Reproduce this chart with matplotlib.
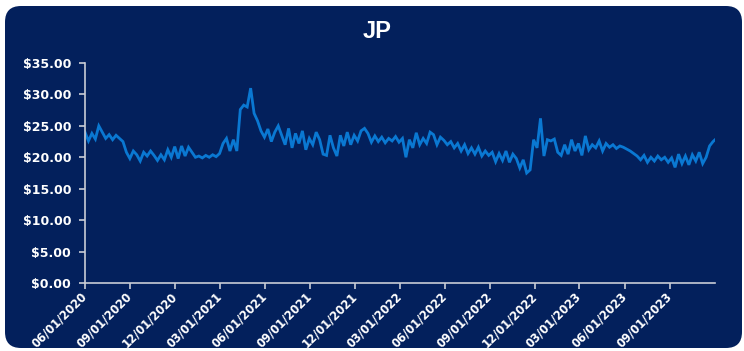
import matplotlib
matplotlib.use("Agg")
import matplotlib.pyplot as plt
import matplotlib.dates as mdates
from matplotlib.patches import FancyBboxPatch
from matplotlib.ticker import FuncFormatter
import pandas as pd

# Weekly closing price, starting 06/01/2020
start_date = "2020-06-01"
prices = [
    # Jun - Aug 2020
    24.0, 22.6, 23.8, 22.9, 25.0, 24.0, 23.0, 23.6, 22.8, 23.5, 23.0, 22.5,
    # Aug - Nov 2020
    20.8, 19.8, 21.0, 20.4, 19.4, 20.8, 20.2, 21.0, 20.3, 19.5, 20.4, 19.6,
    # Nov 2020 - Jan 2021
    21.2, 20.0, 21.7, 19.8, 21.8, 20.2, 21.6, 20.8,
    # Jan - Mar 2021
    20.0, 20.2, 19.9, 20.3, 20.0, 20.4, 20.1, 20.6,
    # Mar - Apr 2021
    22.2, 23.0, 21.0, 22.8, 21.0,
    # Apr - May 2021 spike
    27.6, 28.3, 28.0, 31.0, 27.0, 25.8, 24.2,
    # May - Oct 2021
    23.2, 24.5, 22.5, 24.0, 25.0, 23.5, 22.0, 24.6, 21.5, 23.8, 22.2, 24.2,
    21.2, 23.0, 22.0, 24.0, 22.8, 20.5,
    # Oct 2021 - Jan 2022
    20.3, 23.5, 21.5, 20.2, 23.5, 21.8, 24.0, 22.0, 23.5, 22.6, 24.2, 24.6,
    23.8, 22.4, 23.4, 22.5, 23.2, 22.3, 23.0, 22.6, 23.3, 22.4, 23.0,
    # Mar - Jun 2022
    20.0, 22.8, 21.5, 23.9, 22.0, 23.0, 22.2, 24.0, 23.6, 22.0, 23.2,
    # Jun - Sep 2022
    22.7, 22.0, 22.5, 21.5, 22.2, 21.0, 22.0, 20.6, 21.5, 20.5, 21.6, 20.2,
    21.0, 20.3,
    # Sep - Nov 2022
    20.8, 19.3, 20.6, 19.5, 21.0, 19.2, 20.5, 19.8,
    18.3, 19.6, 17.5, 18.0,
    # Dec 2022 - Feb 2023
    22.8, 21.5, 26.2, 20.2, 22.8, 22.6, 22.9, 20.8, 20.3,
    # Feb - Jun 2023
    22.0, 20.5, 22.8, 21.0, 22.2, 20.3, 23.4, 21.2, 22.0, 21.5, 22.6, 21.0,
    22.2, 21.6, 22.0, 21.4, 21.8, 21.6, 21.3,
    # Jun - Jul 2023
    21.0, 20.6, 20.2, 19.6,
    # Jul - Nov 2023
    20.3, 19.2, 20.0, 19.4, 20.2, 19.6, 20.0, 19.2, 19.9, 18.4, 20.5, 19.0,
    20.2, 18.8, 20.4, 19.4, 20.8, 19.0, 20.0,
    # Nov 2023
    21.8, 22.5, 23.0,
]

title = "JP"
y_ticks = [0, 5, 10, 15, 20, 25, 30, 35]
x_tick_start = "2020-06-01"
x_tick_end = "2023-09-01"
x_end = "2023-12-01"

navy = "#03205C"
line_blue = "#0A78D2"
axis_grey = "#C9CCD6"

dates = pd.date_range(start_date, periods=len(prices), freq="7D")

fig = plt.figure(figsize=(7.44, 3.51), dpi=100, facecolor="white")

# Rounded navy panel behind the chart (display pixel coordinates)
panel = FancyBboxPatch((5, 3), 737, 342,
                       boxstyle="round,pad=0,rounding_size=16",
                       transform=None, facecolor=navy, edgecolor="none",
                       zorder=-10)
fig.patches.append(panel)

ax = fig.add_axes([85 / 744, 1 - 283 / 351, (715 - 85) / 744, (283 - 63) / 351])
ax.set_facecolor("none")
ax.set_zorder(5)

ax.plot(dates, prices, color=line_blue, linewidth=2.0, solid_joinstyle="miter")

ax.set_ylim(0, 35)
ax.set_yticks(y_ticks)
ax.yaxis.set_major_formatter(FuncFormatter(lambda v, _: f"${v:,.2f}"))

ax.set_xlim(pd.Timestamp(start_date), pd.Timestamp(x_end))
ax.set_xticks(pd.date_range(x_tick_start, x_tick_end, freq="3MS"))
ax.xaxis.set_major_formatter(mdates.DateFormatter("%m/%d/%Y"))

for side in ("top", "right"):
    ax.spines[side].set_visible(False)
for side in ("left", "bottom"):
    ax.spines[side].set_color(axis_grey)
    ax.spines[side].set_linewidth(1.2)

ax.tick_params(axis="both", colors=axis_grey, length=4, width=1.2,
               labelcolor="white")
ax.tick_params(axis="y", pad=6, labelsize=9)
ax.tick_params(axis="x", pad=4, labelsize=8.3)

fig.canvas.draw()
for lbl in ax.get_yticklabels():
    lbl.set_fontweight("bold")
for lbl in ax.get_xticklabels():
    lbl.set(fontweight="bold", rotation=45, ha="right", va="center",
            rotation_mode="anchor")

fig.text(377 / 744, 1 - 31 / 351, title, color="white", fontsize=17,
         fontweight="bold", family="Liberation Sans", ha="center", va="center")

fig.savefig("out.png", dpi=100, facecolor=fig.get_facecolor())
